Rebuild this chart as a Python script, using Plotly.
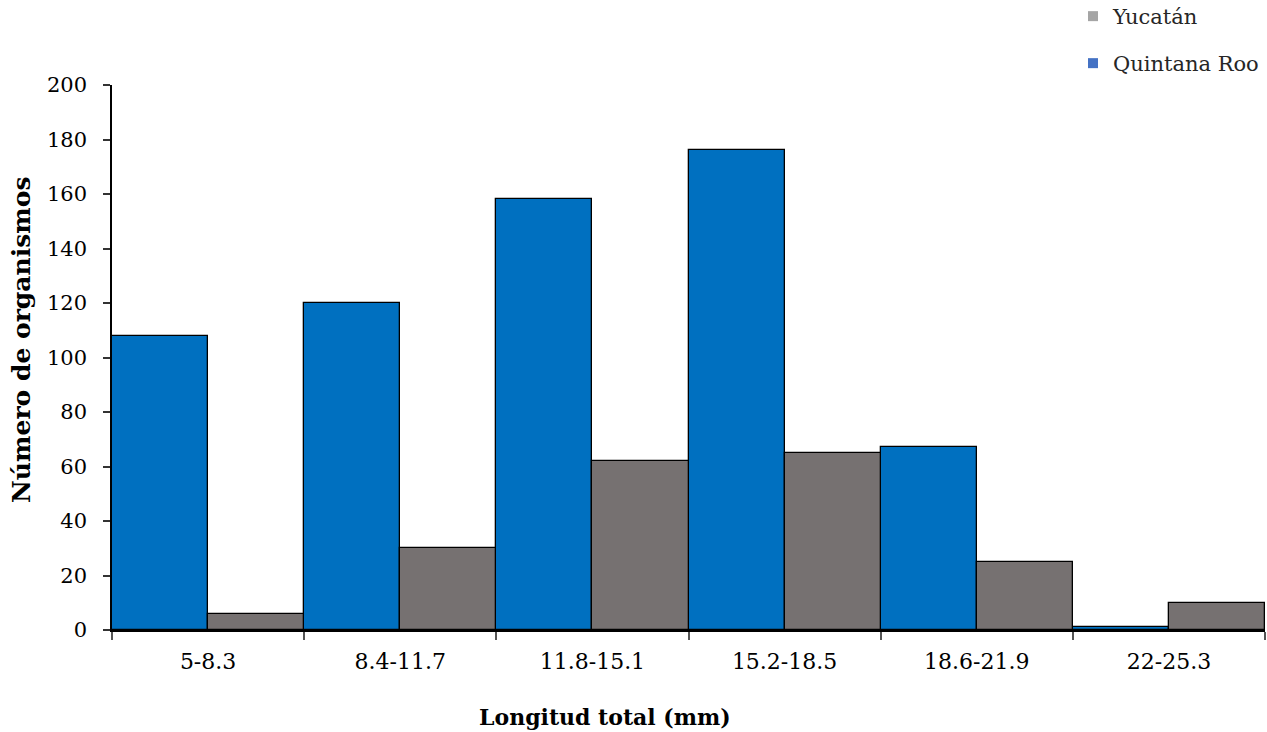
import plotly.graph_objects as go

categories = ["5-8.3", "8.4-11.7", "11.8-15.1", "15.2-18.5", "18.6-21.9", "22-25.3"]
quintana_roo = [108, 120, 158, 176, 67, 1]
yucatan = [6, 30, 62, 65, 25, 10]
y_ticks = [0, 20, 40, 60, 80, 100, 120, 140, 160, 180, 200]

FONT = "DejaVu Serif"
W, H = 1267, 732
L, R, T, B = 112, 2, 85, 102

fig = go.Figure()
fig.add_trace(go.Bar(x=categories, y=quintana_roo, name="Quintana Roo",
                     marker=dict(color="#0070C0", line=dict(color="black", width=1.3)),
                     showlegend=False))
fig.add_trace(go.Bar(x=categories, y=yucatan, name="Yucatán",
                     marker=dict(color="#767171", line=dict(color="black", width=1.3)),
                     showlegend=False))
# legend entries
fig.add_trace(go.Scatter(x=[None], y=[None], mode="markers", name="Yucatán",
                         marker=dict(symbol="square", size=10, color="#A5A5A5"),
                         legend="legend"))
fig.add_trace(go.Scatter(x=[None], y=[None], mode="markers", name="Quintana Roo",
                         marker=dict(symbol="square", size=10, color="#4472C4"),
                         legend="legend2"))

pw = W - L - R
ph = H - T - B
def px_x(x):
    return (x - L) / pw
def px_y(y):
    return (H - B - y) / ph

fig.update_layout(
    width=W, height=H,
    margin=dict(l=L, r=R, t=T, b=B, pad=0, autoexpand=False),
    paper_bgcolor="white", plot_bgcolor="white",
    barmode="group", bargap=0, bargroupgap=0,
    font=dict(family=FONT, size=22, color="black"),
    legend=dict(x=px_x(1073), y=px_y(-4), xanchor="left", yanchor="top",
                font=dict(family=FONT, size=21, color="#262626"), bgcolor="rgba(0,0,0,0)",
                itemwidth=30),
    legend2=dict(x=px_x(1073), y=px_y(43), xanchor="left", yanchor="top",
                 font=dict(family=FONT, size=21, color="#262626"), bgcolor="rgba(0,0,0,0)",
                 itemwidth=30),
    xaxis=dict(
        type="category", tickson="boundaries", ticks="outside", ticklen=8,
        tickcolor="#555", tickwidth=1.5,
        showline=True, linecolor="black", linewidth=1.5,
        showgrid=False, tickfont=dict(family=FONT, size=22), ticklabelstandoff=11,
    ),
    yaxis=dict(
        range=[0, 200], tickvals=y_ticks, ticks="outside", ticklen=7,
        tickcolor="#333", tickwidth=1.5,
        showline=True, linecolor="black", linewidth=1.5,
        showgrid=False, zeroline=False, tickfont=dict(family=FONT, size=21), ticklabelstandoff=12,
    ),
    annotations=[
        dict(text="<b>Longitud total (mm)</b>", xref="paper", yref="paper",
             x=px_x(604.5), y=px_y(717), xanchor="center", yanchor="middle",
             showarrow=False, font=dict(family=FONT, size=22, color="black")),
        dict(text="<b>Número de organismos</b>", xref="paper", yref="paper",
             x=px_x(21), y=px_y(340), xanchor="center", yanchor="middle", textangle=-90,
             showarrow=False, font=dict(family=FONT, size=25, color="black")),
    ],
)

fig.write_html("out.html")
